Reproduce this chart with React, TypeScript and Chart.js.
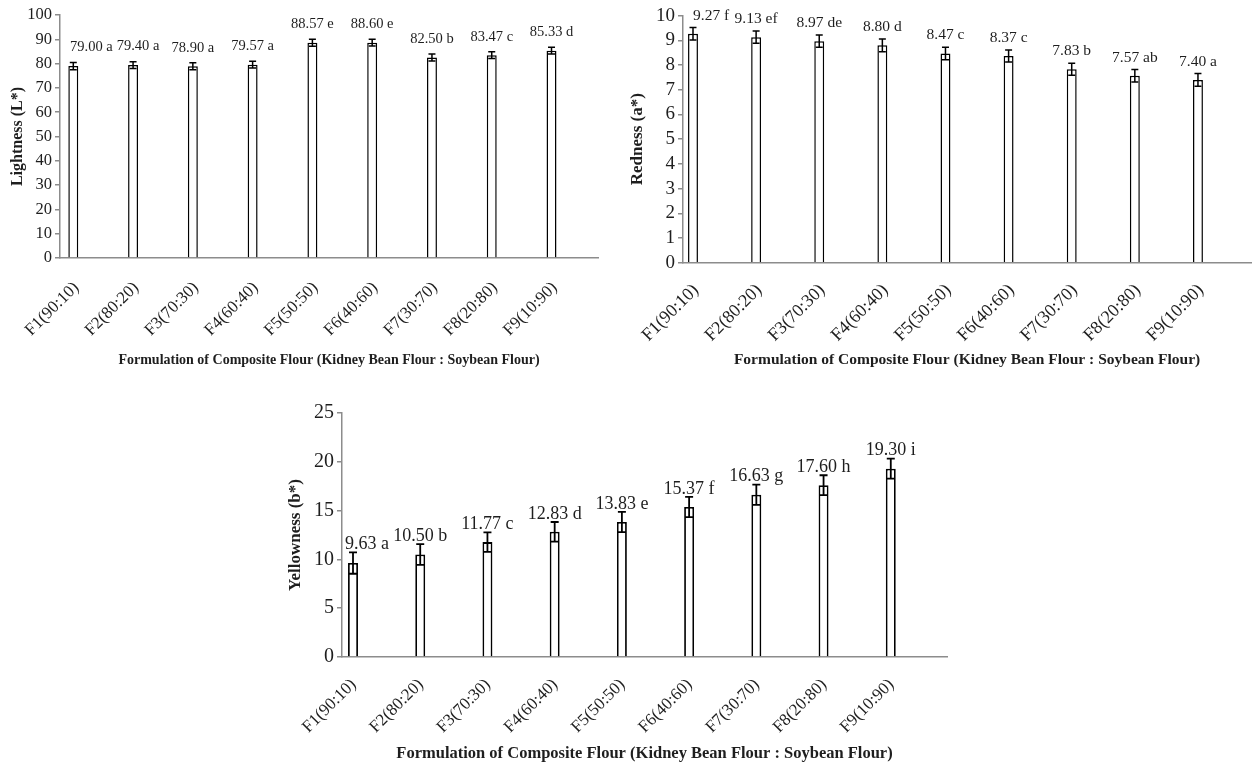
import React, { useEffect, useRef } from 'react';
import { Chart, registerables } from 'chart.js';

Chart.register(...registerables);

// ---------- data ----------
const categories = ['F1(90:10)', 'F2(80:20)', 'F3(70:30)', 'F4(60:40)', 'F5(50:50)', 'F6(40:60)', 'F7(30:70)', 'F8(20:80)', 'F9(10:90)'];

const lightness = [79.0, 79.4, 78.9, 79.57, 88.57, 88.6, 82.5, 83.47, 85.33];
const lightnessErr = [1.5, 1.4, 1.4, 1.4, 1.4, 1.4, 1.45, 1.4, 1.35];
const lightnessLetters = ['a', 'a', 'a', 'a', 'e', 'e', 'b', 'c', 'd'];

const redness = [9.27, 9.13, 8.97, 8.8, 8.47, 8.37, 7.83, 7.57, 7.4];
const rednessErr = [0.25, 0.25, 0.25, 0.26, 0.25, 0.24, 0.24, 0.25, 0.26];
const rednessLetters = ['f', 'ef', 'de', 'd', 'c', 'c', 'b', 'ab', 'a'];

const yellowness = [9.63, 10.5, 11.77, 12.83, 13.83, 15.37, 16.63, 17.6, 19.3];
const yellownessErr = [1.1, 1.06, 1.0, 1.0, 1.04, 1.03, 1.04, 1.02, 1.03];
const yellownessLetters = ['a', 'b', 'c', 'd', 'e', 'f', 'g', 'h', 'i'];

const X_TITLE = 'Formulation of Composite Flour (Kidney Bean Flour : Soybean Flour)';

const SERIF = "'Liberation Serif', 'Times New Roman', Times, serif";
const TEXT = '#1e1e1e';
const AXIS = '#8c8c8c';

// ---------- plugin: error bars + value labels ----------
const errorBarsPlugin = {
  id: 'errorBars',
  afterDatasetsDraw(chart: any, _args: any, opts: any) {
    const { ctx, chartArea } = chart;
    const y = chart.scales.y;
    const meta = chart.getDatasetMeta(0);
    const values: number[] = opts.values;
    const errors: number[] = opts.errors;
    const letters: string[] = opts.letters;
    ctx.save();
    ctx.strokeStyle = '#000';
    ctx.lineWidth = opts.lineWidth;
    let prevRight = -Infinity;
    meta.data.forEach((bar: any, i: number) => {
      const x = bar.x;
      const top = y.getPixelForValue(values[i] + errors[i]);
      const bot = y.getPixelForValue(values[i] - errors[i]);
      const cap = opts.cap;
      ctx.beginPath();
      ctx.moveTo(x, top);
      ctx.lineTo(x, bot);
      ctx.moveTo(x - cap, top);
      ctx.lineTo(x + cap, top);
      ctx.moveTo(x - cap, bot);
      ctx.lineTo(x + cap, bot);
      ctx.stroke();

      const text = values[i].toFixed(2) + ' ' + letters[i];
      ctx.font = `${opts.labelSize}px ${SERIF}`;
      ctx.fillStyle = TEXT;
      ctx.textAlign = 'center';
      ctx.textBaseline = 'middle';
      const w = ctx.measureText(text).width;
      let cx = Math.max(x, chartArea.left + opts.minLeft + w / 2);
      cx = Math.max(cx, prevRight + 4 + w / 2);
      prevRight = cx + w / 2;
      ctx.fillText(text, cx, top - opts.gap);
    });
    ctx.restore();
  },
};

type PanelProps = {
  left: number;
  top: number;
  width: number;
  height: number;
  values: number[];
  errors: number[];
  letters: string[];
  yTitle: string;
  yMax: number;
  yStep: number;
  padTop: number;
  padRight: number;
  yAxisWidth: number;
  xAxisHeight: number;
  catPct: number;
  barPct: number;
  labelOffset: number;
  xTickPad: number;
  xTickSize: number;
  yTickSize: number;
  xTitleSize: number;
  xTitlePadBottom: number;
  yTitleSize: number;
  yTitlePadTop: number;
  labelSize: number;
  gap: number;
  minLeft: number;
  cap: number;
  lineWidth: number;
};

function Panel(p: PanelProps) {
  const ref = useRef<HTMLCanvasElement | null>(null);
  useEffect(() => {
    if (!ref.current) return;
    const ds = (data: (number | null)[]) => ({
      data,
      backgroundColor: '#ffffff',
      borderColor: '#000000',
      borderWidth: p.lineWidth,
      categoryPercentage: p.catPct,
      barPercentage: p.barPct,
    });
    const chart = new Chart(ref.current, {
      type: 'bar',
      data: {
        labels: categories,
        datasets: [ds(p.values), ds(categories.map(() => null)), ds(categories.map(() => null))],
      },
      options: {
        responsive: false,
        animation: false,
        events: [],
        layout: { padding: { left: 0, top: p.padTop, right: p.padRight, bottom: 0 } },
        plugins: {
          legend: { display: false },
          tooltip: { enabled: false },
          errorBars: {
            values: p.values,
            errors: p.errors,
            letters: p.letters,
            labelSize: p.labelSize,
            gap: p.gap,
            minLeft: p.minLeft,
            cap: p.cap,
            lineWidth: p.lineWidth,
          },
        } as any,
        scales: {
          x: {
            grid: { display: false, drawTicks: false },
            border: { display: true, color: AXIS, width: 1.5 },
            ticks: {
              autoSkip: false,
              minRotation: 45,
              maxRotation: 45,
              padding: p.xTickPad,
              labelOffset: p.labelOffset,
              color: TEXT,
              font: { family: SERIF, size: p.xTickSize },
            },
            title: {
              display: true,
              text: X_TITLE,
              color: TEXT,
              font: { family: SERIF, size: p.xTitleSize, weight: 'bold' },
              padding: { top: 0, bottom: p.xTitlePadBottom },
            },
            afterFit: (s: any) => {
              s.height = p.xAxisHeight;
            },
          },
          y: {
            min: 0,
            max: p.yMax,
            ticks: {
              stepSize: p.yStep,
              autoSkip: false,
              padding: 3,
              color: TEXT,
              font: { family: SERIF, size: p.yTickSize },
            },
            grid: { drawOnChartArea: false, drawTicks: true, tickLength: 5, color: AXIS, lineWidth: 1.5 },
            border: { display: true, color: AXIS, width: 1.5 },
            title: {
              display: true,
              text: p.yTitle,
              color: TEXT,
              font: { family: SERIF, size: p.yTitleSize, weight: 'bold' },
              padding: { top: p.yTitlePadTop, bottom: 0 },
            },
            afterFit: (s: any) => {
              s.width = p.yAxisWidth;
            },
          },
        },
      } as any,
      plugins: [errorBarsPlugin as any],
    });
    return () => chart.destroy();
  }, []);
  return (
    <canvas
      ref={ref}
      width={p.width}
      height={p.height}
      style={{ position: 'absolute', left: p.left, top: p.top, width: p.width, height: p.height }}
    />
  );
}

export default function App() {
  return (
    <div style={{ position: 'fixed', left: 0, top: 0, width: 1252, height: 769, background: '#fff', overflow: 'hidden' }}>
      <Panel
        left={0} top={0} width={612} height={380}
        values={lightness} errors={lightnessErr} letters={lightnessLetters}
        yTitle="Lightness (L*)" yMax={100} yStep={10}
        padTop={15} padRight={14} yAxisWidth={60} xAxisHeight={122}
        catPct={0.833} barPct={0.6} labelOffset={-13.6}
        xTickPad={19.8} xTickSize={17} yTickSize={16.5}
        xTitleSize={14} xTitlePadBottom={11.6}
        yTitleSize={16} yTitlePadTop={8.4}
        labelSize={14.5} gap={15} minLeft={10} cap={3.5} lineWidth={1.5}
      />
      <Panel
        left={615} top={0} width={637} height={380}
        values={redness} errors={rednessErr} letters={rednessLetters}
        yTitle="Redness (a*)" yMax={10} yStep={1}
        padTop={15.7} padRight={0} yAxisWidth={68} xAxisHeight={117.3}
        catPct={1.025} barPct={0.46} labelOffset={-18.6}
        xTickPad={17.2} xTickSize={18} yTickSize={19}
        xTitleSize={15.5} xTitlePadBottom={10.7}
        yTitleSize={17} yTitlePadTop={12.3}
        labelSize={15.5} gap={12} minLeft={10} cap={3.5} lineWidth={1.5}
      />
      <Panel
        left={270} top={385} width={690} height={384}
        values={yellowness} errors={yellownessErr} letters={yellownessLetters}
        yTitle="Yellowness (b*)" yMax={25} yStep={5}
        padTop={28} padRight={13} yAxisWidth={72} xAxisHeight={112}
        catPct={1.009} barPct={0.44} labelOffset={-22.1}
        xTickPad={17.8} xTickSize={17} yTickSize={20}
        xTitleSize={16.5} xTitlePadBottom={5.5}
        yTitleSize={17} yTitlePadTop={15.3}
        labelSize={18} gap={8} minLeft={3} cap={4} lineWidth={1.8}
      />
    </div>
  );
}
